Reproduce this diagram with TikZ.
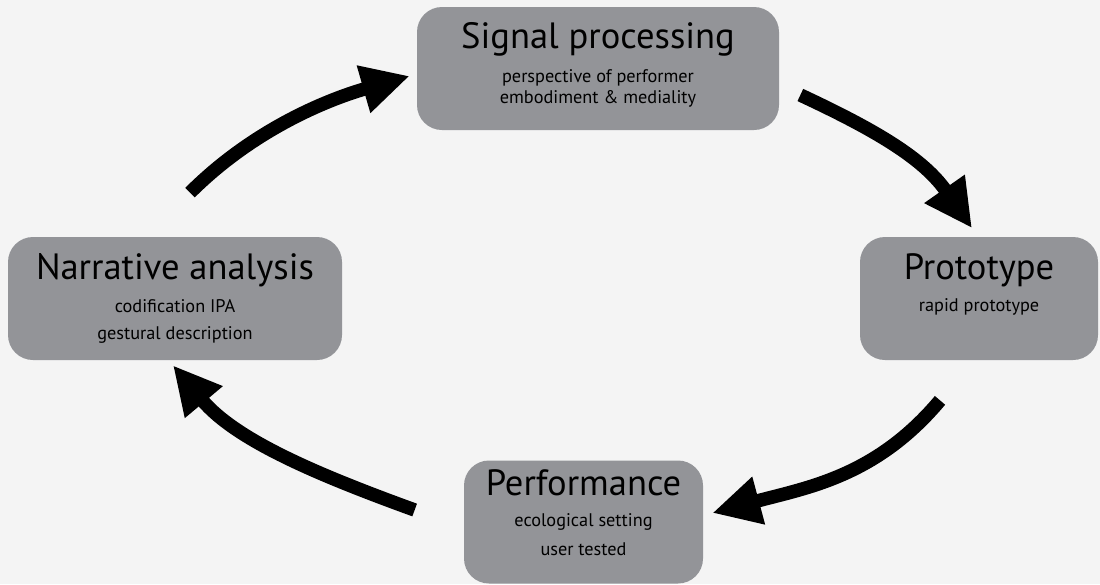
\documentclass[tikz,border=0pt]{standalone}
\usepackage{fontspec}
\setmainfont{PT Sans}
\usetikzlibrary{arrows.meta}
\definecolor{boxgray}{HTML}{939498}
\definecolor{paper}{HTML}{F4F4F4}

\begin{document}
\begin{tikzpicture}[
  stage/.style={fill=boxgray,rounded corners=0.5cm,minimum height=2.46cm,inner sep=0pt},
  head/.style={anchor=base,inner sep=0pt,font=\fontsize{20.8}{24}\selectfont},
  note/.style={anchor=base,inner sep=0pt,font=\fontsize{10.4}{12}\selectfont},
  flow/.style={line width=0.27cm,-{Triangle[length=0.96cm,width=0.92cm]}}
]
  \fill[paper] (0,0) rectangle (22,-11.68);

  % the four stages
  \node[stage,minimum width=7.24cm] (sig)   at (11.96,-1.37)  {};
  \node[stage,minimum width=6.68cm] (narr)  at (3.5,-5.97)    {};
  \node[stage,minimum width=4.76cm] (proto) at (19.58,-5.97)  {};
  \node[stage,minimum width=4.78cm] (perf)  at (11.67,-10.44) {};

  \node[head] (sigt)   at ([yshift=-0.84cm]sig.north)   {Signal processing};
  \node[note] (siga)   at ([yshift=-1.52cm]sig.north)   {perspective of performer};
  \node[note] (sigb)   at ([yshift=-1.94cm]sig.north)   {embodiment \& mediality};
  \node[head] (narrt)  at ([yshift=-0.86cm]narr.north)  {Narrative analysis};
  \node[note] (narra)  at ([yshift=-1.52cm]narr.north)  {codification IPA};
  \node[note] (narrb)  at ([yshift=-2.06cm]narr.north)  {gestural description};
  \node[head] (protot) at ([yshift=-0.86cm]proto.north) {Prototype};
  \node[note] (protoa) at ([yshift=-1.50cm]proto.north) {rapid prototype};
  \node[head] (perft)  at ([yshift=-0.70cm]perf.north)  {Performance};
  \node[note] (perfa)  at ([yshift=-1.32cm]perf.north)  {ecological setting};
  \node[note] (perfb)  at ([yshift=-1.90cm]perf.north)  {user tested};

  % the cycle
  \draw[flow] ([xshift=0.3cm,yshift=0.88cm]narr.north)
    to[out=45,in=196,looseness=0.9] ([xshift=-0.14cm,yshift=-0.15cm]sig.west);
  \draw[flow] ([xshift=0.42cm,yshift=-0.53cm]sig.east)
    to[out=-25,in=125] ([xshift=-0.14cm,yshift=0.17cm]proto.north);
  \draw[flow] ([xshift=-0.78cm,yshift=-0.8cm]proto.south)
    to[out=230,in=15] ([xshift=0.18cm,yshift=0.18cm]perf.east);
  \draw[flow] ([xshift=-0.98cm,yshift=0.24cm]perf.west)
    to[out=160,in=-50,looseness=0.9] ([xshift=-0.04cm,yshift=-0.1cm]narr.south);
\end{tikzpicture}
\end{document}
